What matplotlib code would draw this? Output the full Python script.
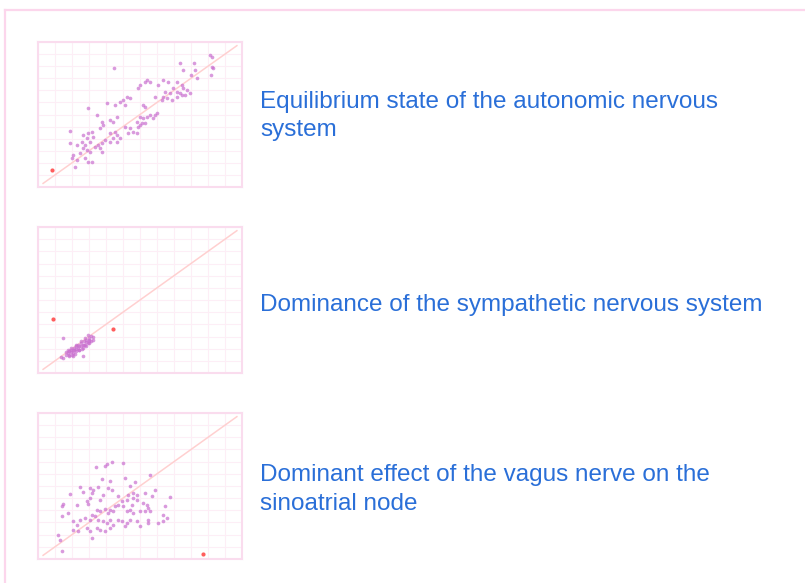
import matplotlib
matplotlib.use("Agg")
import matplotlib.pyplot as plt
from matplotlib.lines import Line2D

# Poincare plots, RR(n) vs RR(n+1) in ms
rr1_x = [1411, 1421, 1421, 1427, 1415, 1235, 1317, 1255, 1323, 1298, 1337, 847,
         1043, 1029, 1000, 1059, 990, 1137, 1166, 1108, 1215, 1245, 1196, 1255,
         1274, 1147, 1176, 1215, 1235, 1264, 1294, 1137, 1157, 1127, 1186, 1215,
         1245, 1088, 921, 941, 902, 882, 853, 912, 804, 696, 1019, 1029, 745, 863,
         823, 774, 843, 784, 765, 1000, 1019, 1039, 1059, 1088, 1098, 1078, 980,
         1010, 1000, 990, 1029, 912, 941, 961, 931, 980, 588, 667, 696, 716, 725,
         686, 706, 676, 823, 853, 867, 843, 823, 794, 774, 755, 735, 765, 588, 627,
         667, 686, 706, 647, 608, 598, 627, 676, 696, 716, 618, 657, 882, 863, 774]
rr1_y = [1493, 1480, 1397, 1383, 1328, 1424, 1424, 1369, 1369, 1328, 1306, 1383,
         1286, 1273, 1245, 1273, 1217, 1286, 1273, 1245, 1273, 1245, 1217, 1217,
         1204, 1190, 1176, 1190, 1176, 1162, 1176, 1148, 1135, 1121, 1121, 1148,
         1162, 1148, 1148, 1135, 1121, 1107, 1079, 1079, 1093, 1052, 1079, 1066,
         997, 983, 955, 941, 936, 914, 886, 983, 969, 983, 997, 997, 1010, 969,
         941, 928, 914, 900, 928, 900, 886, 859, 845, 845, 864, 831, 845, 859, 817,
         803, 776, 748, 845, 859, 831, 803, 776, 790, 762, 748, 734, 721, 762, 748,
         721, 707, 693, 679, 665, 638, 624, 638, 610, 610, 569, 776, 803, 776, 693]

rr2_x = [549, 662, 535, 545, 692, 711, 721, 702, 682, 672, 653, 633, 623, 613,
         594, 584, 574, 564, 584, 604, 623, 643, 662, 682, 702, 721, 711, 692, 672,
         653, 633, 613, 594, 604, 623, 643, 662, 682, 702, 639, 619, 600, 658, 678,
         698, 584, 608, 564, 574, 594, 623, 653, 678]
rr2_y = [688, 536, 530, 522, 715, 707, 696, 688, 674, 660, 646, 632, 619, 605,
         591, 577, 563, 550, 550, 563, 577, 591, 605, 619, 646, 674, 660, 646, 632,
         619, 605, 591, 569, 591, 599, 619, 632, 652, 674, 585, 558, 544, 599, 627,
         660, 536, 536, 569, 591, 605, 632, 660, 688]

rr3_x = [741, 794, 808, 833, 902, 1059, 912, 970, 823, 774, 647, 667, 706, 725,
         716, 755, 814, 833, 941, 931, 961, 980, 1088, 1068, 1029, 588, 549, 539,
         578, 539, 627, 686, 696, 706, 765, 784, 872, 892, 921, 951, 961, 980, 1019,
         1039, 1049, 1147, 1176, 745, 765, 794, 823, 843, 814, 853, 872, 902, 921,
         941, 961, 1000, 1029, 1059, 1137, 1157, 608, 627, 647, 676, 706, 716, 735,
         755, 784, 804, 823, 872, 892, 921, 941, 980, 1049, 1049, 1108, 1137, 1000,
         608, 637, 686, 706, 745, 765, 794, 823, 843, 912, 716, 520, 529, 539]
rr3_y = [1159, 1164, 1178, 1200, 1186, 1087, 1062, 1035, 1040, 1054, 991, 952,
         985, 971, 944, 991, 985, 971, 1004, 930, 944, 930, 971, 916, 944, 935, 853,
         833, 778, 750, 847, 875, 853, 902, 888, 930, 916, 875, 888, 847, 902, 888,
         861, 847, 819, 833, 908, 806, 792, 814, 806, 792, 778, 833, 847, 833, 792,
         806, 778, 792, 797, 792, 764, 737, 709, 681, 723, 737, 723, 764, 750, 723,
         709, 695, 723, 723, 709, 695, 723, 709, 723, 695, 695, 709, 668, 640, 626,
         654, 626, 654, 640, 626, 654, 681, 668, 571, 599, 557, 469]

# red markers
red1_x, red1_y = [480], [541]
red2_x, red2_y = [486, 843], [848, 762]
red3_x, red3_y = [1372], [441]

labels = ["Equilibrium state of the autonomic nervous\nsystem",
          "Dominance of the sympathetic nervous system",
          "Dominant effect of the vagus nerve on the\nsinoatrial node"]

panels = [(rr1_x, rr1_y, red1_x, red1_y),
          (rr2_x, rr2_y, red2_x, red2_y),
          (rr3_x, rr3_y, red3_x, red3_y)]

fig = plt.figure(figsize=(8.05, 5.83), dpi=100)

# outer pink frame
fig.add_artist(Line2D([5/805, 1], [1-10/583, 1-10/583], color="#fcd6ec", lw=1.6))
fig.add_artist(Line2D([5/805, 5/805], [0, 1-10/583], color="#fcd6ec", lw=1.6))

bottoms = [0.6792, 0.3602, 0.0412]
heights = [0.2487, 0.2504, 0.2504]
text_y = [1-116/583, 1-305/583, 1-489.5/583]

for i, (x, y, rx, ry) in enumerate(panels):
    ax = fig.add_axes([0.0472, bottoms[i], 0.2534, heights[i]])
    ax.set_xlim(400, 1600)
    ax.set_ylim(400, 1600)
    ax.set_xticks(range(400, 1601, 100))
    ax.set_yticks(range(400, 1601, 100))
    ax.tick_params(length=0, labelbottom=False, labelleft=False)
    ax.grid(True, color="#fdeef6", lw=0.8)
    ax.set_axisbelow(True)
    for s in ax.spines.values():
        s.set_color("#fadcee")
        s.set_linewidth(1.5)
    ax.plot([430, 1570], [430, 1570], color="#ffd0d0", lw=1.1, zorder=1)
    ax.scatter(x, y, s=7, color="#c96fcf", lw=0, alpha=0.7, zorder=2)
    ax.scatter(rx, ry, s=9, color="#ff4040", lw=0, alpha=0.85, zorder=3)
    fig.text(260/805, text_y[i], labels[i], color="#2a6fd8", fontsize=17.5,
             family="Liberation Sans", va="center", ha="left", linespacing=1.37)

fig.savefig("out.png", dpi=100)
